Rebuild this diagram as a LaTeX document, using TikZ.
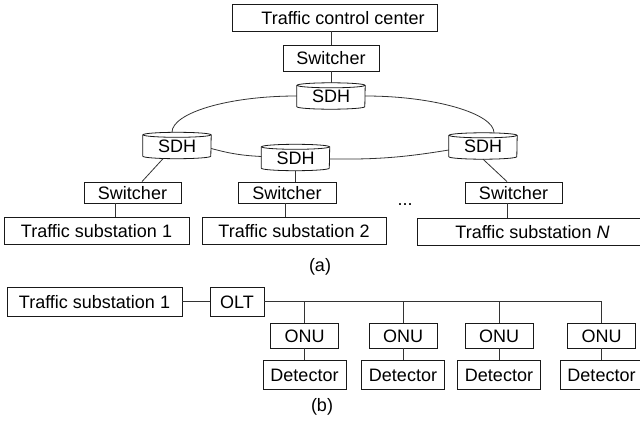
\documentclass[tikz,border=0pt]{standalone}
\usepackage{fontspec}
\setmainfont{Liberation Sans}
\tikzset{
  lbl/.style={font=\fontsize{18}{20}\selectfont},
  box/.style={draw=black!90, line width=0.8pt, fill=white, inner sep=0pt, text height=13pt, text depth=0pt, font=\fontsize{18}{20}\selectfont},
  sdhnode/.style={inner sep=0pt, minimum width=68pt, minimum height=26pt, text height=13pt, text depth=0pt, font=\fontsize{18}{20}\selectfont},
  conn/.style={line width=0.8pt, draw=black!80},
}
\newcommand\sdhdraw[1]{%
  \draw[conn,draw=black!90] ([yshift=-2.5pt]#1.north west) -- ([yshift=2.5pt]#1.south west)
    arc[x radius=34pt, y radius=2.5pt, start angle=180, end angle=360] -- ([yshift=-2.5pt]#1.north east);
  \draw[conn,draw=black!90] ([yshift=-2.5pt]#1.north) ellipse[x radius=34pt, y radius=2.5pt];}
\begin{document}
\begin{tikzpicture}[x=1pt,y=-1pt]
\useasboundingbox (0,0) rectangle (640,423);
\clip (0,0) rectangle (640,423);
% ---------- (a) ----------
\node[box, minimum width=205pt, minimum height=27pt] (tcc) at (334.5,17.5) {\hspace{17pt}Traffic control center};
\node[box, minimum width=96pt, minimum height=26pt] (sw0) at (331,58) {Switcher};
\node[sdhnode] (s0) at (331,96) {SDH};
\node[sdhnode] (s1) at (177,145.5) {SDH};
\node[sdhnode] (s2) at (295.5,157.5) {SDH};
\node[sdhnode] (s3) at (483,146) {SDH};
\sdhdraw{s0}\sdhdraw{s1}\sdhdraw{s2}\sdhdraw{s3}
\node[box, minimum width=97pt, minimum height=21pt] (sw1) at (132.5,192.5) {Switcher};
\node[box, minimum width=98pt, minimum height=21pt] (sw2) at (287,192.5) {Switcher};
\node[box, minimum width=97pt, minimum height=21pt] (sw3) at (513.5,192.5) {Switcher};
\node[box, minimum width=185pt, minimum height=27pt] (ts1) at (96.5,230.5) {Traffic substation 1};
\node[box, minimum width=184pt, minimum height=27pt] (ts2) at (294,230.5) {Traffic substation 2};
\node[box, minimum width=231pt, minimum height=27pt] (tsN) at (532.5,231.5) {Traffic substation \textit{N}};
\node[lbl, inner sep=0pt] (dots) at (405,205) {...};
\node[lbl, inner sep=0pt] (capa) at (320,267) {(a)};
% connectors (a)
\draw[conn] (tcc.south -| sw0.north) -- (sw0.north);
\draw[conn] (sw0.south) -- (s0.north);
\draw[conn] (s0.west) .. controls +(-70,0) and +(0,-19) .. ([xshift=-5pt]s1.north);
\draw[conn] (s0.east) .. controls +(70,0) and +(0,-19) .. ([xshift=11pt]s3.north);
\draw[conn] ([yshift=-3pt]s1.east) to[bend right=6] ([yshift=1pt]s2.west);
\draw[conn] ([yshift=-1.5pt]s2.east) to[bend right=5] ([yshift=-4pt]s3.west);
\draw[conn] ([xshift=-14pt]s1.south) -- ([xshift=9.5pt]sw1.north);
\draw[conn] (s2.south) -- (s2.south |- sw2.north);
\draw[conn] (s3.south) -- ([xshift=-6.5pt]sw3.north);
\draw[conn] ([xshift=-17.5pt]sw1.south) -- ([xshift=-17.5pt]sw1.south |- ts1.north);
\draw[conn] ([xshift=-2pt]sw2.south) -- ([xshift=-2pt]sw2.south |- ts2.north);
\draw[conn] ([xshift=-6.5pt]sw3.south) -- ([xshift=-6.5pt]sw3.south |- tsN.north);
% ---------- (b) ----------
\node[box, minimum width=175pt, minimum height=29pt] (tsb) at (94.5,301.5) {Traffic substation 1};
\node[box, minimum width=54pt, minimum height=29pt] (olt) at (237,301.5) {OLT};
\foreach \i/\x in {1/304.5, 2/403, 3/499, 4/601.5} {
  \node[box, minimum width=68pt, minimum height=25pt] (onu\i) at (\x,335.5) {ONU};
  \node[box, minimum width=83pt, minimum height=29pt] (det\i) at (\x,374.5) {Detector};
}
\node[lbl, inner sep=0pt] (capb) at (322,407) {(b)};
\draw[conn] (tsb.east) -- (olt.west);
\draw[conn] (olt.east) -- (olt.east -| onu4.north) -- (onu4.north);
\foreach \i in {1,2,3} { \draw[conn] (olt.east -| onu\i.north) -- (onu\i.north); }
\foreach \i in {1,2,3,4} { \draw[conn] (onu\i.south) -- (det\i.north); }
\end{tikzpicture}
\end{document}
